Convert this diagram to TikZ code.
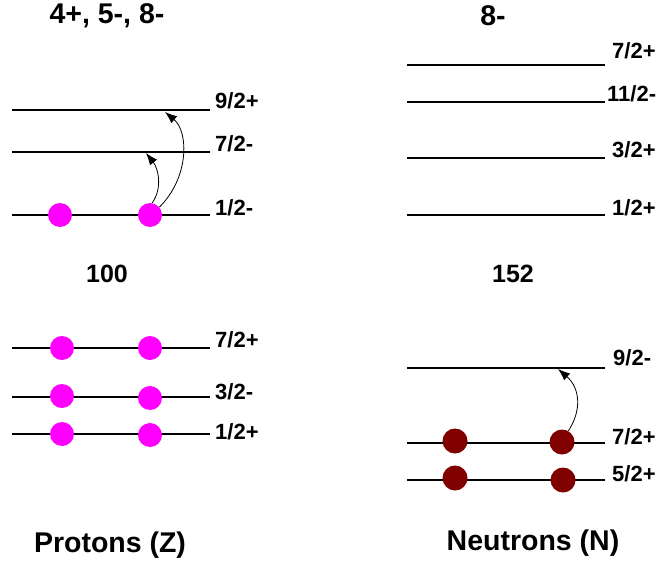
\documentclass[tikz,border=0pt]{standalone}
\usepackage{fontspec}
\setmainfont{Liberation Sans}
\usetikzlibrary{arrows.meta}
\definecolor{pmag}{RGB}{255,0,255}
\definecolor{nmar}{RGB}{128,0,0}
\begin{document}
\begin{tikzpicture}[x=1pt,y=-1pt,
  level/.style={line width=1.3pt},
  lab/.style={anchor=west, font=\bfseries\fontsize{22}{22}\selectfont, inner sep=0pt},
  title/.style={font=\bfseries\fontsize{28.5}{28.5}\selectfont, inner sep=0pt},
  num/.style={font=\bfseries\fontsize{25}{25}\selectfont, inner sep=0pt},
  top/.style={font=\bfseries\fontsize{28.5}{28.5}\selectfont, inner sep=0pt},
  pdot/.style={circle, fill=pmag, minimum size=24pt, inner sep=0pt},
  ndot/.style={circle, fill=nmar, minimum size=25pt, inner sep=0pt},
  trans/.style={-{Latex[length=12pt,width=9pt]}, line width=0.8pt}]
\useasboundingbox (0,0) rectangle (660,561);
\fill[white] (0,0) rectangle (660,561);

% titles
\node[top] (tl) at (107,16) {4+, 5-, 8-};
\node[top] (tr) at (493,16) {8-};
\node[num] (zl) at (107,274) {100};
\node[num] (zr) at (513,274) {152};
\node[title] (bl) at (110,545) {Protons (Z)};
\node[title] (br) at (533,543) {Neutrons (N)};

% left upper levels
\draw[level] (12,110) -- (210,110);
\draw[level] (12,152) -- (210,152);
\draw[level] (12,215) -- (210,215);
\node[lab] (l1) at (215,101) {9/2+};
\node[lab] (l2) at (215,144) {7/2-};
\node[lab] (l3) at (215,208) {1/2-};

% left lower levels
\draw[level] (12,348) -- (210,348);
\draw[level] (12,397) -- (210,397);
\draw[level] (12,434) -- (210,434);
\node[lab] (l4) at (215,340) {7/2+};
\node[lab] (l5) at (215,392) {3/2-};
\node[lab] (l6) at (215,432) {1/2+};

% right upper levels
\draw[level] (407,65) -- (605,65);
\draw[level] (407,102) -- (605,102);
\draw[level] (407,158) -- (605,158);
\draw[level] (407,215) -- (605,215);
\node[lab] (r1) at (612,51) {7/2+};
\node[lab] (r2) at (607,94) {11/2-};
\node[lab] (r3) at (612,150) {3/2+};
\node[lab] (r4) at (612,208) {1/2+};

% right lower levels
\draw[level] (407,368) -- (605,368);
\draw[level] (407,443) -- (605,443);
\draw[level] (407,480) -- (605,480);
\node[lab] (r5) at (613,358) {9/2-};
\node[lab] (r6) at (612,437) {7/2+};
\node[lab] (r7) at (612,474) {5/2+};

% proton dots
\node[pdot] (pa) at (60,215) {};
\node[pdot] (pb) at (150,215) {};
\node[pdot] (pc) at (62,348) {};
\node[pdot] (pd) at (150,348) {};
\node[pdot] (pe) at (62,396) {};
\node[pdot] (pf) at (150,398) {};
\node[pdot] (pg) at (62,434) {};
\node[pdot] (ph) at (150,435) {};

% neutron dots
\node[ndot] (na) at (455,441) {};
\node[ndot] (nb) at (562,442) {};
\node[ndot] (nc) at (455,478) {};
\node[ndot] (nd) at (563,480) {};

% transitions
\coordinate (t1) at (146,153);
\coordinate (t2) at (165,112);
\coordinate (t3) at (558,369);
\draw[trans] (pb.80) .. controls (163,188) and (158,168) .. (t1);
\draw[trans] (pb.40) .. controls (189,178) and (189,132) .. (t2);
\draw[trans] (nb.60) .. controls (582,410) and (580,388) .. (t3);
\end{tikzpicture}
\end{document}
